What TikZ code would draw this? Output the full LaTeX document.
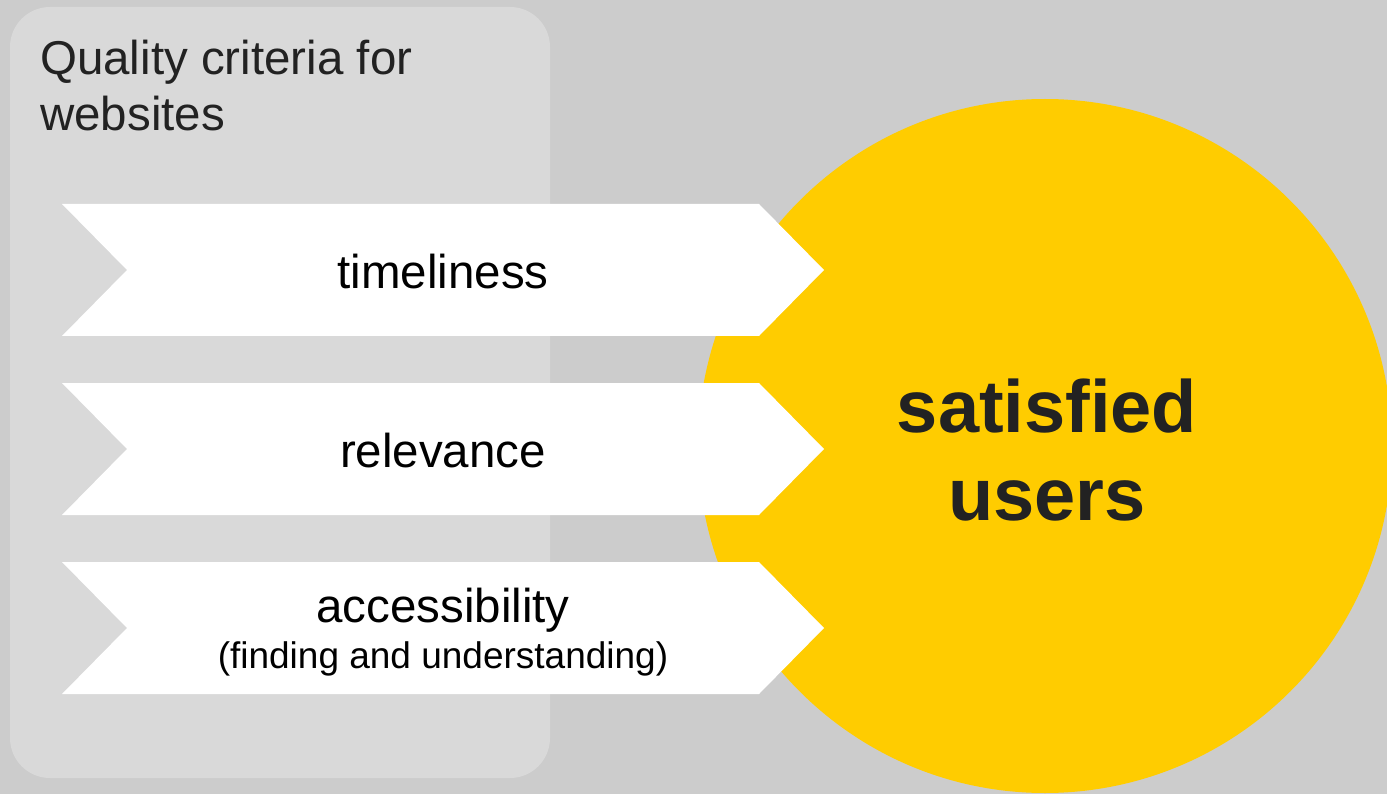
\documentclass[tikz,border=0pt]{standalone}
\usepackage{fontspec}
\setmainfont{Liberation Sans}
\definecolor{bg}{HTML}{CCCCCC}
\definecolor{panel}{HTML}{D9D9D9}
\definecolor{sun}{HTML}{FFCC00}
\definecolor{ink}{HTML}{222222}
\tikzset{
  chevron/.style={fill=white},
  label/.style={inner sep=0pt, anchor=base, text=black, align=center},
}
\begin{document}
\begin{tikzpicture}[x=1pt,y=-1pt]
\fill[bg] (0,0) rectangle (1387,794);
\useasboundingbox (0,0) rectangle (1387,794);
\fill[panel, rounded corners=40pt] (10,7) rectangle (550,778);
\begin{scope}
\clip (0,0) rectangle (1387,794);
\fill[sun] (1045,446) circle[radius=347];
\end{scope}
\node[inner sep=0pt, anchor=base west, align=left, text=ink,
  font=\fontsize{47.5}{56}\selectfont] (title) at (40,131) {Quality criteria for\\websites};
\foreach \y/\n in {204/c1,383/c2,562/c3}{
  \fill[chevron] (62,\y) -- (759,\y) -- (824,\y+66) -- (759,\y+132) -- (62,\y+132) -- (127,\y+66) -- cycle;
}
\node[label, font=\fontsize{47.5}{56}\selectfont] (t1) at (443,289) {timeliness};
\node[label, font=\fontsize{47.5}{56}\selectfont] (t2) at (443,467) {relevance};
\node[label, font=\fontsize{47.5}{56}\selectfont] (t3) at (443,622) {accessibility};
\node[label, font=\fontsize{37}{44}\selectfont] (t3b) at (443,668) {(finding and understanding)};
\node[inner sep=0pt, anchor=base, text=ink, font=\fontsize{74}{88}\bfseries\selectfont] (s1) at (1047,432) {satisfied};
\node[inner sep=0pt, anchor=base, text=ink, font=\fontsize{74}{88}\bfseries\selectfont] (s2) at (1047,520) {users};
\end{tikzpicture}
\end{document}
